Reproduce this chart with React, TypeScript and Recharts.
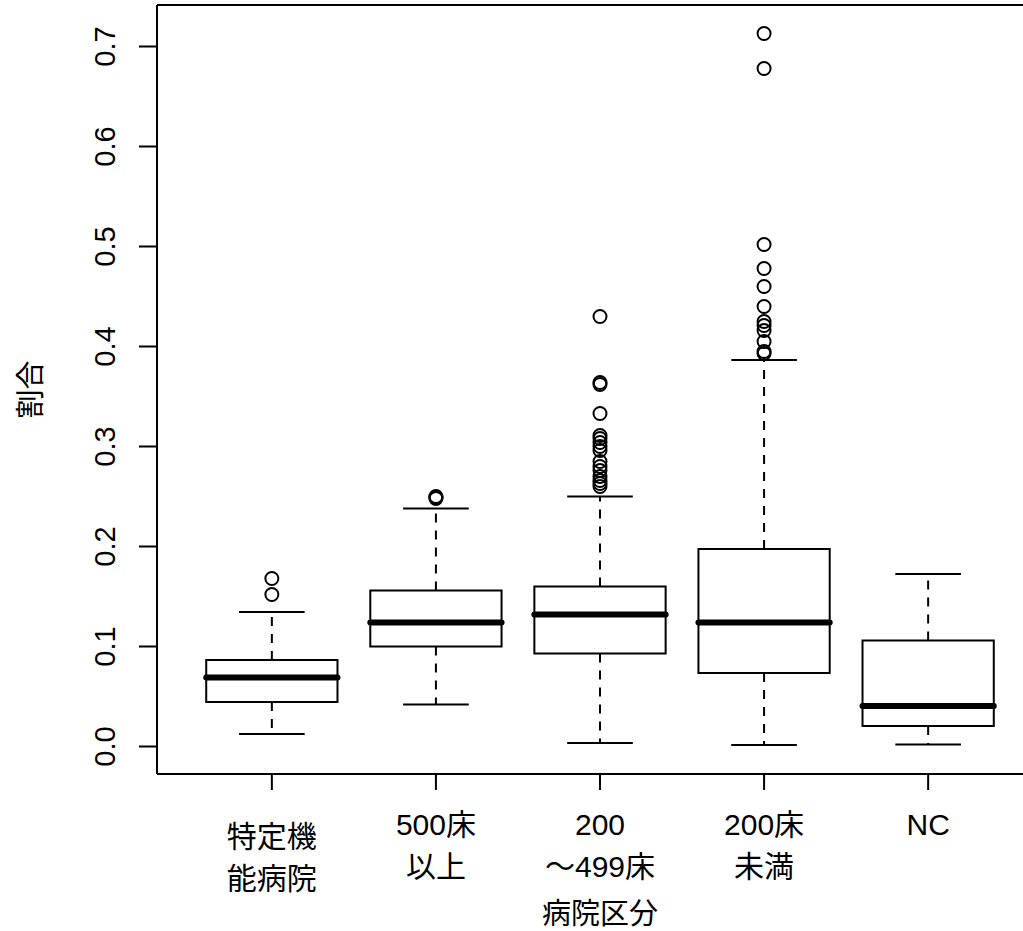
import { ComposedChart, Scatter, XAxis, YAxis, ReferenceArea, ReferenceLine, Label } from 'recharts'

// 病院区分ごとの割合（箱ひげ図）
const categories = ['特定機\n能病院', '500床\n以上', '200\n～499床', '200床\n未満', 'NC']
const lowerWhisker = [0.0125, 0.042, 0.0035, 0.0015, 0.002]
const q1 = [0.0445, 0.1, 0.093, 0.0735, 0.0205]
const median = [0.069, 0.124, 0.132, 0.124, 0.0405]
const q3 = [0.0865, 0.156, 0.16, 0.1975, 0.106]
const upperWhisker = [0.1345, 0.238, 0.25, 0.3865, 0.1725]

const outliersTokutei = [0.168, 0.152]
const outliers500 = [0.25, 0.249, 0.248]
const outliers200to499 = [0.43, 0.364, 0.362, 0.333, 0.311, 0.308, 0.304, 0.3, 0.296, 0.285, 0.28, 0.276, 0.27, 0.266, 0.263, 0.26]
const outliersUnder200 = [0.713, 0.678, 0.502, 0.478, 0.46, 0.44, 0.425, 0.421, 0.416, 0.405, 0.395, 0.393]
const outliersNC: number[] = []

const xTicks = [1, 2, 3, 4, 5]
const yTicks = [0, 0.1, 0.2, 0.3, 0.4, 0.5, 0.6, 0.7]
const Y_MIN = -0.0275
const Y_MAX = 0.7415

const FONT = "'Liberation Sans', 'Noto Sans CJK JP', sans-serif"
const BOX_HALF = 0.4
const CAP_HALF = 0.2

const outlierPoints = [outliersTokutei, outliers500, outliers200to499, outliersUnder200, outliersNC]
  .flatMap((arr, i) => arr.map(v => ({ x: i + 1, y: v })))

function XTick({ x, y, payload }: any) {
  const lines = categories[payload.value - 1].split('\n')
  const cjkFirst = !/[0-9A-Za-z]/.test(lines[0])
  return (
    <text x={x} y={y + (cjkFirst ? 55 : 43)} textAnchor="middle" fontSize={30} fontFamily={FONT} fill="#000">
      {lines.map((l, i) => (
        <tspan key={i} x={x} dy={i === 0 ? 0 : 42}>{l}</tspan>
      ))}
    </text>
  )
}

function YTick({ x, y, payload }: any) {
  return (
    <text x={x} y={y} transform={`rotate(-90 ${x} ${y})`} textAnchor="middle" fontSize={29} fontFamily={FONT} fill="#000">
      {payload.value.toFixed(1)}
    </text>
  )
}

const Outlier = (props: any) => (
  <circle cx={props.cx} cy={props.cy} r={6.5} fill="none" stroke="#000" strokeWidth={2} />
)

export default function App() {
  return (
    <div style={{ position: 'absolute', left: 0, top: 0, width: 1023, height: 931, overflow: 'hidden', background: '#fff' }}>
      <ComposedChart width={1043} height={931} data={outlierPoints} margin={{ top: 5, right: 0, bottom: 0, left: 0 }}>
        <XAxis
          type="number"
          dataKey="x"
          domain={[0.3, 5.7]}
          ticks={xTicks}
          allowDataOverflow
          height={157}
          tickSize={16}
          tick={<XTick />}
          axisLine={{ stroke: '#000', strokeWidth: 2 }}
          tickLine={{ stroke: '#000', strokeWidth: 2 }}
        >
          <Label
            content={({ viewBox }: any) => (
              <text x={viewBox.x + viewBox.width / 2} y={viewBox.y + 150} textAnchor="middle" fontSize={29} fontFamily={FONT} fill="#000">
                病院区分
              </text>
            )}
          />
        </XAxis>
        <YAxis
          type="number"
          dataKey="y"
          domain={[Y_MIN, Y_MAX]}
          ticks={yTicks}
          allowDataOverflow
          width={157}
          tickSize={18}
          tickMargin={24}
          tick={<YTick />}
          axisLine={{ stroke: '#000', strokeWidth: 2 }}
          tickLine={{ stroke: '#000', strokeWidth: 2 }}
        >
          <Label
            content={({ viewBox }: any) => {
              const lx = viewBox.x + 41
              const ly = viewBox.y + viewBox.height / 2
              return (
                <text x={lx} y={ly} transform={`rotate(-90 ${lx} ${ly})`} textAnchor="middle" fontSize={29} fontFamily={FONT} fill="#000">
                  割合
                </text>
              )
            }}
          />
        </YAxis>
        <ReferenceLine y={Y_MAX} stroke="#000" strokeWidth={2} />
        {categories.map((_, i) => {
          const c = i + 1
          return [
            <ReferenceLine key={`wu${i}`} segment={[{ x: c, y: q3[i] }, { x: c, y: upperWhisker[i] }]} stroke="#000" strokeWidth={2} strokeDasharray="9 8" />,
            <ReferenceLine key={`wl${i}`} segment={[{ x: c, y: q1[i] }, { x: c, y: lowerWhisker[i] }]} stroke="#000" strokeWidth={2} strokeDasharray="9 8" />,
            <ReferenceLine key={`cu${i}`} segment={[{ x: c - CAP_HALF, y: upperWhisker[i] }, { x: c + CAP_HALF, y: upperWhisker[i] }]} stroke="#000" strokeWidth={2} />,
            <ReferenceLine key={`cl${i}`} segment={[{ x: c - CAP_HALF, y: lowerWhisker[i] }, { x: c + CAP_HALF, y: lowerWhisker[i] }]} stroke="#000" strokeWidth={2} />,
            <ReferenceArea key={`b${i}`} x1={c - BOX_HALF} x2={c + BOX_HALF} y1={q1[i]} y2={q3[i]} fill="none" fillOpacity={0} stroke="#000" strokeWidth={2} strokeOpacity={1} />,
            <ReferenceLine key={`m${i}`} segment={[{ x: c - BOX_HALF, y: median[i] }, { x: c + BOX_HALF, y: median[i] }]} stroke="#000" strokeWidth={6} strokeLinecap="round" />,
          ]
        })}
        <Scatter dataKey="y" shape={<Outlier />} isAnimationActive={false} />
      </ComposedChart>
    </div>
  )
}
